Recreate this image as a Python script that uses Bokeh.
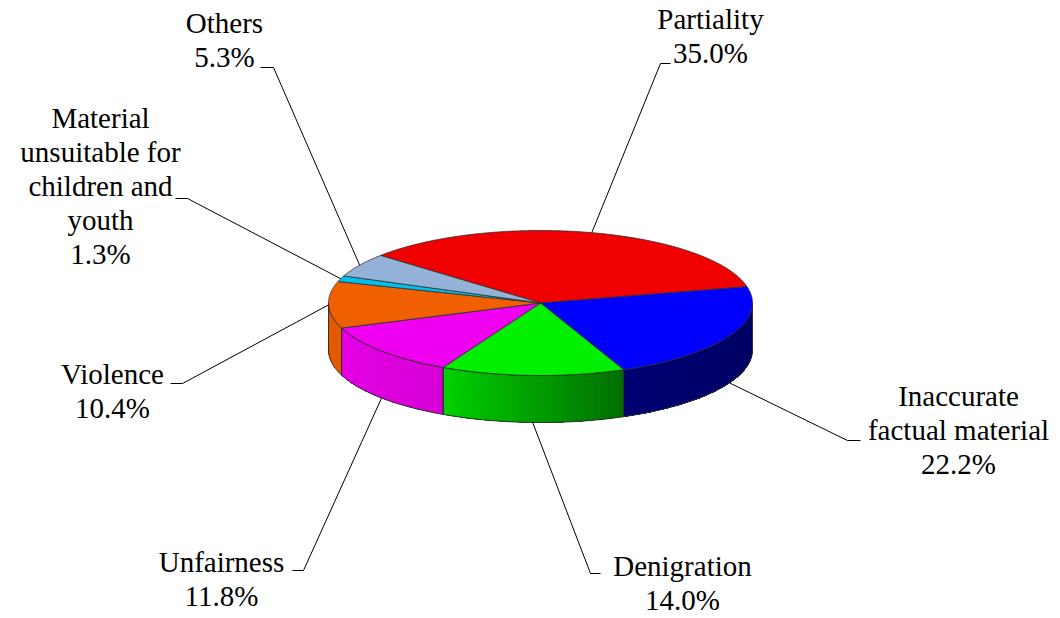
import numpy as np
from bokeh.plotting import figure
from bokeh.models import Range1d
from bokeh.embed import file_html
from bokeh.resources import INLINE
from bokeh.core.properties import value

# ---------------- data ----------------
categories = ["Partiality", "Inaccurate factual material", "Denigration", "Unfairness",
              "Violence", "Material unsuitable for children and youth", "Others"]
shares = [35.0, 22.2, 14.0, 11.8, 10.4, 1.3, 5.3]
label_lines = [["Partiality"], ["Inaccurate", "factual material"], ["Denigration"],
               ["Unfairness"], ["Violence"],
               ["Material", "unsuitable for", "children and", "youth"], ["Others"]]

# ---------------- style / layout ----------------
top_colors = ["#F00000", "#0000FF", "#00F000", "#F000F0", "#F06000", "#00C0F0", "#94B2D8"]
CX, CY, RX, RY, DEPTH = 540.0, 302.5, 212.0, 72.5, 47.0
START = 139.0
FONT = "Liberation Serif"
FSIZE = "29px"
LINE_H = 34
W, H = 1060, 618

label_cx = [710, 958, 682, 221, 112, 100, 224]
label_y0 = [18, 395, 565, 561, 373, 117, 22]
lead_text_x = [670, 860, 600, 292, 170, 175, 260]
lead_knee_x = [660, 847, 590, 303, 182, 187, 273]
lead_y = [63, 440, 573, 570, 383, 198, 67]


def ex(t):
    return CX + RX * np.cos(np.radians(t))


def ey(t, d=0.0):
    return CY - RY * np.sin(np.radians(t)) + d


def shade(hexcol, f):
    h = hexcol.lstrip("#")
    r, g, b = (int(h[i:i + 2], 16) for i in (0, 2, 4))
    return "#%02x%02x%02x" % (int(r * f), int(g * f), int(b * f))


def side_factor(t):
    return float(np.interp(t, [-180, -160, -120, -66, 0], [0.93, 0.96, 0.90, 0.45, 0.38]))


total = sum(shares)
bounds = START - 360.0 * np.concatenate([[0.0], np.cumsum(shares)]) / total
hi = bounds[:-1]
lo = bounds[1:]
mid = (hi + lo) / 2

p = figure(width=W, height=H, x_range=Range1d(0, W), y_range=Range1d(H, 0),
           output_backend="svg", toolbar_location=None,
           x_axis_location=None, y_axis_location=None, min_border=0)
p.grid.visible = False
p.outline_line_color = None
p.background_fill_color = "white"

# ---- side walls (front half only), drawn as nested sweeps so no seams show ----
sx, sy, sc = [], [], []
ox, oy = [], []
for i in range(len(shares)):
    a = max(lo[i], -180.0)
    b = min(hi[i], 0.0)
    if a >= b:
        continue
    n = max(2, int((b - a) / 0.75))
    ts = np.linspace(b, a, n + 1)
    for k in range(n):
        seg = ts[k:]
        tm = (ts[k] + ts[k + 1]) / 2
        sx.append(list(ex(seg)) + list(ex(seg[::-1])))
        sy.append(list(ey(seg)) + list(ey(seg[::-1], DEPTH)))
        sc.append(shade(top_colors[i], side_factor(tm)))
    ox.append(list(ex(ts)) + list(ex(ts[::-1])))
    oy.append(list(ey(ts)) + list(ey(ts[::-1], DEPTH)))

p.patches(sx, sy, fill_color=sc, line_color=None)
p.patches(ox, oy, fill_color=None, line_color="#303030", line_width=1)

# ---- top faces ----
tx, ty = [], []
for i in range(len(shares)):
    n = max(3, int((hi[i] - lo[i]) / 0.5))
    ts = np.linspace(hi[i], lo[i], n + 1)
    tx.append([CX] + list(ex(ts)))
    ty.append([CY] + list(ey(ts)))
p.patches(tx, ty, fill_color=top_colors, line_color="#303030", line_width=0.8)

# ---- leader lines ----
lx, ly = [], []
for i in range(len(shares)):
    front = np.sin(np.radians(mid[i])) < -0.2
    ax_ = ex(mid[i])
    ay_ = ey(mid[i], DEPTH if front else 0.0)
    lx.append([lead_text_x[i], lead_knee_x[i], ax_])
    ly.append([lead_y[i], lead_y[i], ay_])
p.multi_line(lx, ly, line_color="black", line_width=1)

# ---- labels ----
txs, tys, tts = [], [], []
for i in range(len(shares)):
    lines = label_lines[i] + ["%.1f%%" % shares[i]]
    for j, s in enumerate(lines):
        txs.append(label_cx[i])
        tys.append(label_y0[i] + j * LINE_H)
        tts.append(s)
p.text(x=txs, y=tys, text=tts, text_font=value(FONT), text_font_size=FSIZE,
       text_align="center", text_baseline="alphabetic", text_color="black")

open("out.html", "w").write(file_html(p, INLINE))
